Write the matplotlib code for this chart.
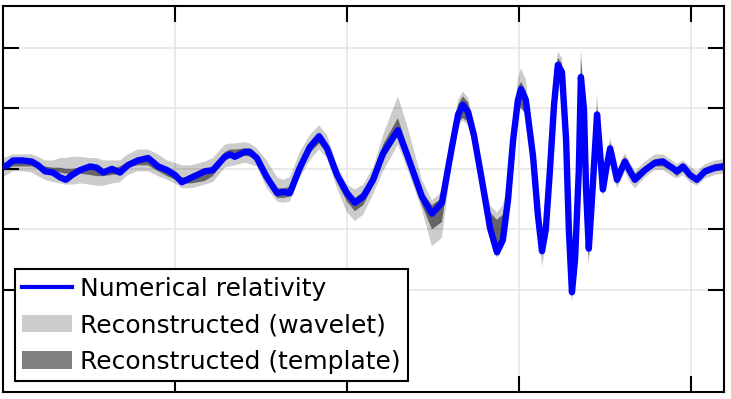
import matplotlib
matplotlib.use("Agg")
import matplotlib.pyplot as plt
from matplotlib.patches import Patch
from matplotlib.lines import Line2D

# time (s) and strain (1e-21)
t = [0.2500, 0.2512, 0.2529, 0.2555, 0.2584, 0.2602, 0.2622, 0.2645, 0.2666, 0.2683,
     0.2701, 0.2724, 0.2753, 0.2773, 0.2791, 0.2817, 0.2840, 0.2863, 0.2892, 0.2922,
     0.2951, 0.2977, 0.3000, 0.3020, 0.3049, 0.3087, 0.3110, 0.3145, 0.3160, 0.3174,
     0.3203, 0.3218, 0.3238, 0.3267, 0.3297, 0.3314, 0.3334, 0.3363, 0.3392, 0.3419,
     0.3442, 0.3471, 0.3500, 0.3523, 0.3547, 0.3576, 0.3605, 0.3648, 0.3677, 0.3718,
     0.3747, 0.3776, 0.3805, 0.3823, 0.3837, 0.3852, 0.3869, 0.3892, 0.3916, 0.3936,
     0.3953, 0.3968, 0.3983, 0.3997, 0.4006, 0.4020, 0.4041, 0.4055, 0.4067, 0.4078,
     0.4090, 0.4102, 0.4113, 0.4125, 0.4137, 0.4145, 0.4154, 0.4163, 0.4174, 0.4180,
     0.4189, 0.4195, 0.4203, 0.4212, 0.4227, 0.4235, 0.4244, 0.4253, 0.4265, 0.4276,
     0.4285, 0.4297, 0.4308, 0.4323, 0.4337, 0.4366, 0.4395, 0.4419, 0.4445, 0.4459,
     0.4477, 0.4497, 0.4517, 0.4541, 0.4570, 0.4596]

nr = [0.02, 0.03, 0.07, 0.07, 0.06, 0.03, -0.02, -0.03, -0.07, -0.09,
      -0.05, -0.01, 0.02, 0.01, -0.03, 0.00, -0.03, 0.03, 0.07, 0.09,
      0.02, -0.01, -0.05, -0.11, -0.07, -0.02, -0.01, 0.10, 0.12, 0.10,
      0.14, 0.14, 0.09, -0.07, -0.20, -0.19, -0.20, 0.01, 0.18, 0.27,
      0.17, -0.05, -0.20, -0.28, -0.23, -0.09, 0.13, 0.32, 0.10, -0.23,
      -0.37, -0.28, 0.18, 0.45, 0.53, 0.47, 0.28, -0.09, -0.49, -0.69,
      -0.59, -0.26, 0.24, 0.57, 0.66, 0.57, 0.10, -0.38, -0.68, -0.50,
      -0.01, 0.53, 0.86, 0.80, 0.24, -0.50, -1.02, -0.75, -0.01, 0.76,
      0.49, -0.17, -0.66, -0.26, 0.45, 0.16, -0.17, -0.01, 0.17, 0.03,
      -0.09, -0.01, 0.06, -0.02, -0.09, -0.01, 0.05, 0.06, 0.01, -0.02,
      0.02, -0.05, -0.09, -0.02, 0.01, 0.02]

wav_hi = [0.09, 0.10, 0.12, 0.12, 0.12, 0.10, 0.07, 0.07, 0.09, 0.09,
          0.10, 0.10, 0.09, 0.09, 0.07, 0.07, 0.07, 0.12, 0.16, 0.16,
          0.12, 0.07, 0.05, 0.03, 0.03, 0.06, 0.09, 0.20, 0.21, 0.21,
          0.22, 0.21, 0.17, 0.07, -0.07, -0.09, -0.07, 0.14, 0.28, 0.36,
          0.28, 0.03, -0.13, -0.17, -0.13, 0.01, 0.28, 0.60, 0.34, -0.09,
          -0.26, -0.19, 0.28, 0.57, 0.64, 0.59, 0.39, 0.01, -0.30, -0.36,
          -0.30, -0.13, 0.36, 0.75, 0.83, 0.74, 0.20, -0.30, -0.55, -0.38,
          0.07, 0.61, 0.97, 0.92, 0.34, -0.40, -0.92, -0.65, 0.07, 1.00,
          0.65, -0.07, -0.55, -0.17, 0.63, 0.24, -0.09, 0.07, 0.26, 0.12,
          -0.01, 0.07, 0.13, 0.05, -0.02, 0.06, 0.12, 0.12, 0.07, 0.04,
          0.07, 0.02, -0.02, 0.04, 0.07, 0.08]

wav_lo = [-0.06, -0.05, -0.02, -0.02, -0.03, -0.06, -0.09, -0.11, -0.12, -0.13,
          -0.13, -0.12, -0.13, -0.14, -0.14, -0.12, -0.11, -0.05, -0.02, -0.02,
          -0.06, -0.09, -0.12, -0.16, -0.16, -0.13, -0.11, 0.01, 0.02, 0.03,
          0.05, 0.04, 0.02, -0.16, -0.27, -0.28, -0.27, -0.07, 0.07, 0.16,
          0.09, -0.16, -0.36, -0.43, -0.38, -0.21, -0.02, 0.20, -0.01, -0.34,
          -0.64, -0.57, 0.07, 0.36, 0.40, 0.36, 0.17, -0.19, -0.55, -0.74,
          -0.65, -0.34, 0.16, 0.49, 0.53, 0.45, 0.01, -0.49, -0.81, -0.63,
          -0.09, 0.45, 0.78, 0.72, 0.16, -0.59, -1.11, -0.83, -0.09, 0.65,
          0.36, -0.27, -0.79, -0.36, 0.36, 0.07, -0.24, -0.09, 0.07, -0.05,
          -0.16, -0.09, -0.02, -0.11, -0.16, -0.07, -0.01, -0.01, -0.06, -0.08,
          -0.05, -0.11, -0.14, -0.08, -0.05, -0.04]

tmp_hi = [0.03, 0.04, 0.07, 0.07, 0.06, 0.04, 0.02, 0.01, 0.01, 0.00,
          0.00, 0.01, 0.01, -0.01, -0.02, 0.00, 0.02, 0.06, 0.09, 0.09,
          0.04, 0.01, -0.03, -0.07, -0.07, -0.03, 0.01, 0.14, 0.16, 0.16,
          0.17, 0.17, 0.12, -0.02, -0.16, -0.16, -0.15, 0.05, 0.21, 0.30,
          0.21, -0.02, -0.17, -0.24, -0.19, -0.05, 0.20, 0.42, 0.17, -0.19,
          -0.30, -0.24, 0.24, 0.53, 0.60, 0.55, 0.34, -0.02, -0.36, -0.42,
          -0.38, -0.17, 0.32, 0.67, 0.72, 0.64, 0.16, -0.32, -0.59, -0.42,
          0.05, 0.59, 0.92, 0.87, 0.30, -0.44, -0.94, -0.69, 0.05, 0.92,
          0.59, -0.11, -0.59, -0.20, 0.53, 0.21, -0.12, 0.04, 0.22, 0.08,
          -0.04, 0.04, 0.10, 0.02, -0.04, 0.02, 0.08, 0.09, 0.03, 0.01,
          0.04, -0.02, -0.06, 0.01, 0.04, 0.05]

tmp_lo = [-0.01, 0.00, 0.02, 0.02, 0.02, 0.00, -0.02, -0.02, -0.03, -0.04,
          -0.04, -0.04, -0.05, -0.06, -0.06, -0.05, -0.04, 0.01, 0.03, 0.03,
          -0.02, -0.06, -0.09, -0.12, -0.12, -0.10, -0.06, 0.07, 0.09, 0.10,
          0.11, 0.10, 0.07, -0.11, -0.24, -0.24, -0.23, -0.04, 0.13, 0.21,
          0.13, -0.11, -0.27, -0.35, -0.30, -0.14, 0.07, 0.28, 0.06, -0.30,
          -0.50, -0.44, 0.12, 0.39, 0.42, 0.39, 0.21, -0.16, -0.52, -0.69,
          -0.60, -0.30, 0.20, 0.50, 0.50, 0.45, 0.05, -0.44, -0.72, -0.59,
          -0.06, 0.49, 0.82, 0.75, 0.19, -0.55, -1.07, -0.80, -0.06, 0.69,
          0.42, -0.24, -0.77, -0.32, 0.40, 0.11, -0.21, -0.06, 0.12, -0.01,
          -0.13, -0.06, 0.01, -0.07, -0.12, -0.04, 0.02, 0.02, -0.02, -0.06,
          -0.02, -0.07, -0.12, -0.05, -0.02, -0.01]

x_ticks = [0.30, 0.35, 0.40, 0.45]
y_ticks = [-1.0, -0.5, 0.0, 0.5, 1.0]

fig = plt.figure(figsize=(7.31, 3.99), dpi=100)
ax = fig.add_axes([0.0041, 0.0175, 0.9863, 0.9675])

ax.fill_between(t, wav_lo, wav_hi, facecolor="black", alpha=0.2, lw=0, zorder=2)
ax.fill_between(t, tmp_lo, tmp_hi, facecolor="black", alpha=0.5, lw=0, zorder=3)
ax.plot(t, nr, color="#0000ff", lw=4.6, solid_joinstyle="round",
        solid_capstyle="round", zorder=4)

ax.set_xlim(0.25, 0.4596)
ax.set_ylim(-1.845, 1.347)
ax.set_xticks(x_ticks)
ax.set_yticks(y_ticks)
ax.set_xticklabels([])
ax.set_yticklabels([])
ax.tick_params(direction="in", length=11.5, width=1.5, top=True, right=True,
               color="black")
ax.grid(True, color="#e6e6e6", lw=1.2, zorder=0)
ax.set_axisbelow(True)
for s in ax.spines.values():
    s.set_linewidth(1.5)

handles = [Line2D([], [], color="#0000ff", lw=3),
           Patch(facecolor="black", alpha=0.2, lw=0),
           Patch(facecolor="black", alpha=0.5, lw=0)]
labels = ["Numerical relativity", "Reconstructed (wavelet)", "Reconstructed (template)"]
leg = ax.legend(handles, labels, loc="lower left", bbox_to_anchor=(0.0166, 0.0285),
                borderaxespad=0, fontsize=18, fancybox=False, framealpha=1,
                edgecolor="black", labelspacing=0.5, borderpad=0.3,
                handletextpad=0.3, handlelength=2.0)
leg.get_frame().set_linewidth(1.5)
leg.set_zorder(10)

fig.savefig("out.png", dpi=100)
